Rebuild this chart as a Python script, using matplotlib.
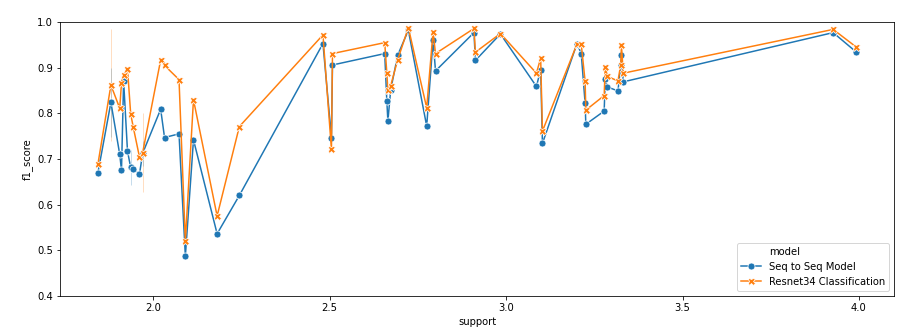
import numpy as np
import pandas as pd
import matplotlib
matplotlib.use("Agg")
import matplotlib.pyplot as plt
import seaborn as sns
from matplotlib.lines import Line2D

# per-class support (log scale) and f1 for both models
support = [1.843, 1.880, 1.880, 1.905, 1.910, 1.916, 1.927, 1.936, 1.936, 1.943,
           1.961, 1.970, 1.970, 2.021, 2.032, 2.073, 2.091, 2.114, 2.181, 2.244,
           2.481, 2.505, 2.508, 2.656, 2.662, 2.665, 2.673, 2.693, 2.723, 2.775,
           2.793, 2.800, 2.909, 2.913, 2.984, 3.086, 3.098, 3.103, 3.201, 3.213,
           3.224, 3.226, 3.278, 3.281, 3.287, 3.317, 3.325, 3.327, 3.332, 3.927,
           3.993]
f1_seq = [0.669, 0.899, 0.749, 0.710, 0.675, 0.871, 0.717, 0.720, 0.643, 0.678,
          0.667, 0.740, 0.685, 0.809, 0.747, 0.755, 0.487, 0.742, 0.536, 0.620,
          0.953, 0.747, 0.906, 0.931, 0.827, 0.783, 0.852, 0.928, 0.982, 0.772,
          0.961, 0.893, 0.977, 0.916, 0.974, 0.859, 0.896, 0.734, 0.953, 0.931,
          0.822, 0.776, 0.805, 0.875, 0.858, 0.849, 0.905, 0.928, 0.869, 0.977,
          0.934]
f1_resnet = [0.688, 0.985, 0.739, 0.811, 0.867, 0.884, 0.898, 0.805, 0.793, 0.771,
             0.704, 0.800, 0.628, 0.917, 0.905, 0.874, 0.520, 0.830, 0.575, 0.771,
             0.972, 0.721, 0.931, 0.955, 0.888, 0.851, 0.861, 0.918, 0.988, 0.812,
             0.979, 0.931, 0.986, 0.934, 0.975, 0.888, 0.921, 0.761, 0.952, 0.952,
             0.870, 0.807, 0.839, 0.902, 0.881, 0.871, 0.907, 0.949, 0.888, 0.984,
             0.945]
models = ["Seq to Seq Model", "Resnet34 Classification"]

df = pd.concat([
    pd.DataFrame({"support": support, "f1_score": f1_seq, "model": models[0]}),
    pd.DataFrame({"support": support, "f1_score": f1_resnet, "model": models[1]}),
])

fig, ax = plt.subplots(figsize=(908 / 72, 335 / 72), dpi=72)
fig.subplots_adjust(left=0.066, right=0.985, top=0.934, bottom=0.117)

sns.lineplot(data=df, x="support", y="f1_score", hue="model", style="model",
             markers=True, dashes=False, errorbar=None, ax=ax, markersize=7)

# faint spread where the same support shows up more than once
cols = {models[0]: "C0", models[1]: "C1"}
g = df.groupby(["model", "support"])["f1_score"].agg(["min", "max", "count"]).reset_index()
g = g[g["count"] > 1]
for _, r in g.iterrows():
    ax.vlines(r["support"], r["min"], r["max"], color=cols[r["model"]], alpha=0.25, lw=1,
              zorder=1)

ax.set_ylim(0.4, 1.0)
ax.set_xticks([2.0, 2.5, 3.0, 3.5, 4.0])

h, l = ax.get_legend_handles_labels()
blank = Line2D([], [], linestyle="none", marker=None)
ax.legend(handles=[blank] + h[:2], labels=["model"] + l[:2], loc="lower right")

fig.savefig("out.png", dpi=72)
